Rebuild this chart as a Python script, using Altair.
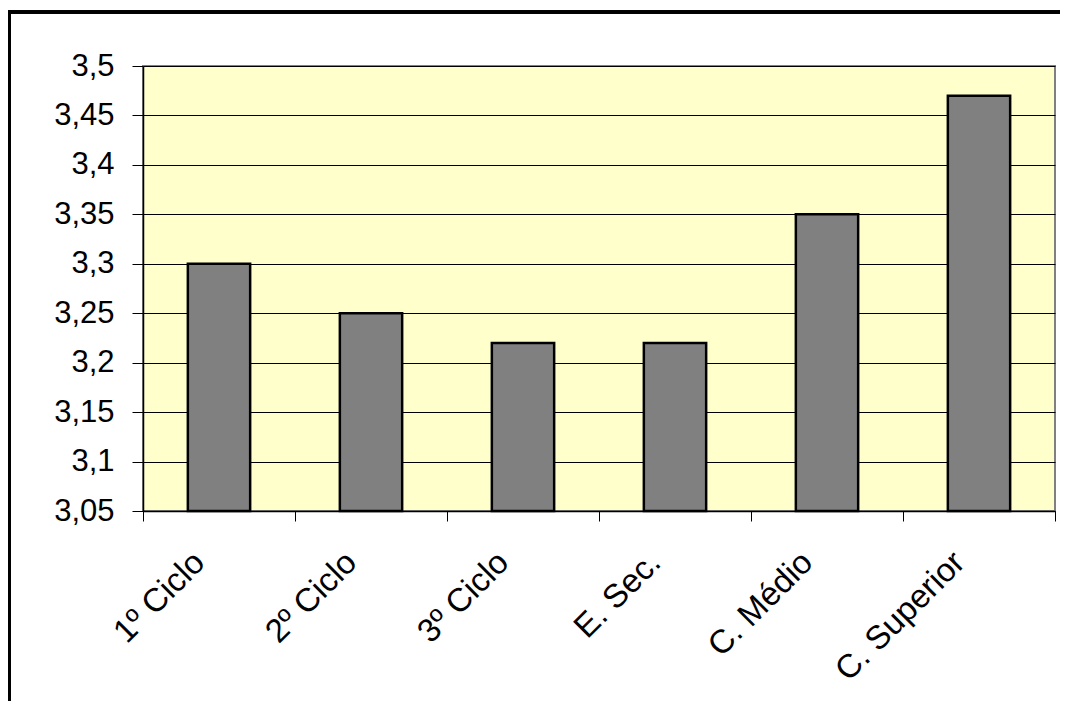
import altair as alt
import pandas as pd

categories = ["1º Ciclo", "2º Ciclo", "3º Ciclo", "E. Sec.", "C. Médio", "C. Superior"]
values = [3.30, 3.25, 3.22, 3.22, 3.35, 3.47]
y_ticks = [3.05, 3.1, 3.15, 3.2, 3.25, 3.3, 3.35, 3.4, 3.45, 3.5]
y_min, y_max = 3.05, 3.5

df = pd.DataFrame({"cat": categories, "val": values, "base": [y_min] * len(values)})

W, H = 912, 445
FONT = "Liberation Sans"

x_enc = alt.X(
    "cat:N",
    sort=categories,
    scale=alt.Scale(paddingInner=0, paddingOuter=0),
    axis=alt.Axis(
        title=None,
        labelAngle=-45,
        labelAlign="right",
        labelBaseline="middle",
        labelFont=FONT,
        labelFontSize=33,
        labelColor="black",
        labelPadding=36,
        labelOffset=-20,
        tickBand="extent",
        tickSize=10,
        tickColor="black",
        domainColor="black",
        domainWidth=1.5,
        grid=False,
    ),
)

y_enc = alt.Y(
    "val:Q",
    scale=alt.Scale(domain=[y_min, y_max], zero=False, nice=False),
    axis=alt.Axis(
        title=None,
        values=y_ticks,
        labelExpr="replace(format(datum.value, '.2~f'), '.', ',')",
        labelFont=FONT,
        labelFontSize=31,
        labelColor="black",
        labelPadding=18,
        tickSize=11,
        tickColor="black",
        domainColor="black",
        domainWidth=1.5,
        grid=True,
        gridColor="black",
        gridWidth=1,
    ),
)

bars = alt.Chart(df).mark_bar(
    color="#808080", stroke="black", strokeWidth=2.5, width={"band": 0.41}
).encode(x=x_enc, y=y_enc, y2="base:Q")

frame = alt.Chart(df).mark_rect(
    fill=None, stroke="black", strokeWidth=3, clip=False
).encode(
    x=alt.value(-133.5), x2=alt.value(W + 40), y=alt.value(-54), y2=alt.value(H + 300)
)

chart = alt.layer(frame, bars).properties(
    width=W,
    height=H,
    autosize=alt.AutoSizeParams(type="none"),
    padding={"left": 135, "top": 58, "right": 5, "bottom": 190},
    background="white",
).configure_view(
    fill="#FFFFCC", stroke="#808080", strokeWidth=2
)

chart.save("out.html", embed_options={"renderer": "svg", "actions": False})
